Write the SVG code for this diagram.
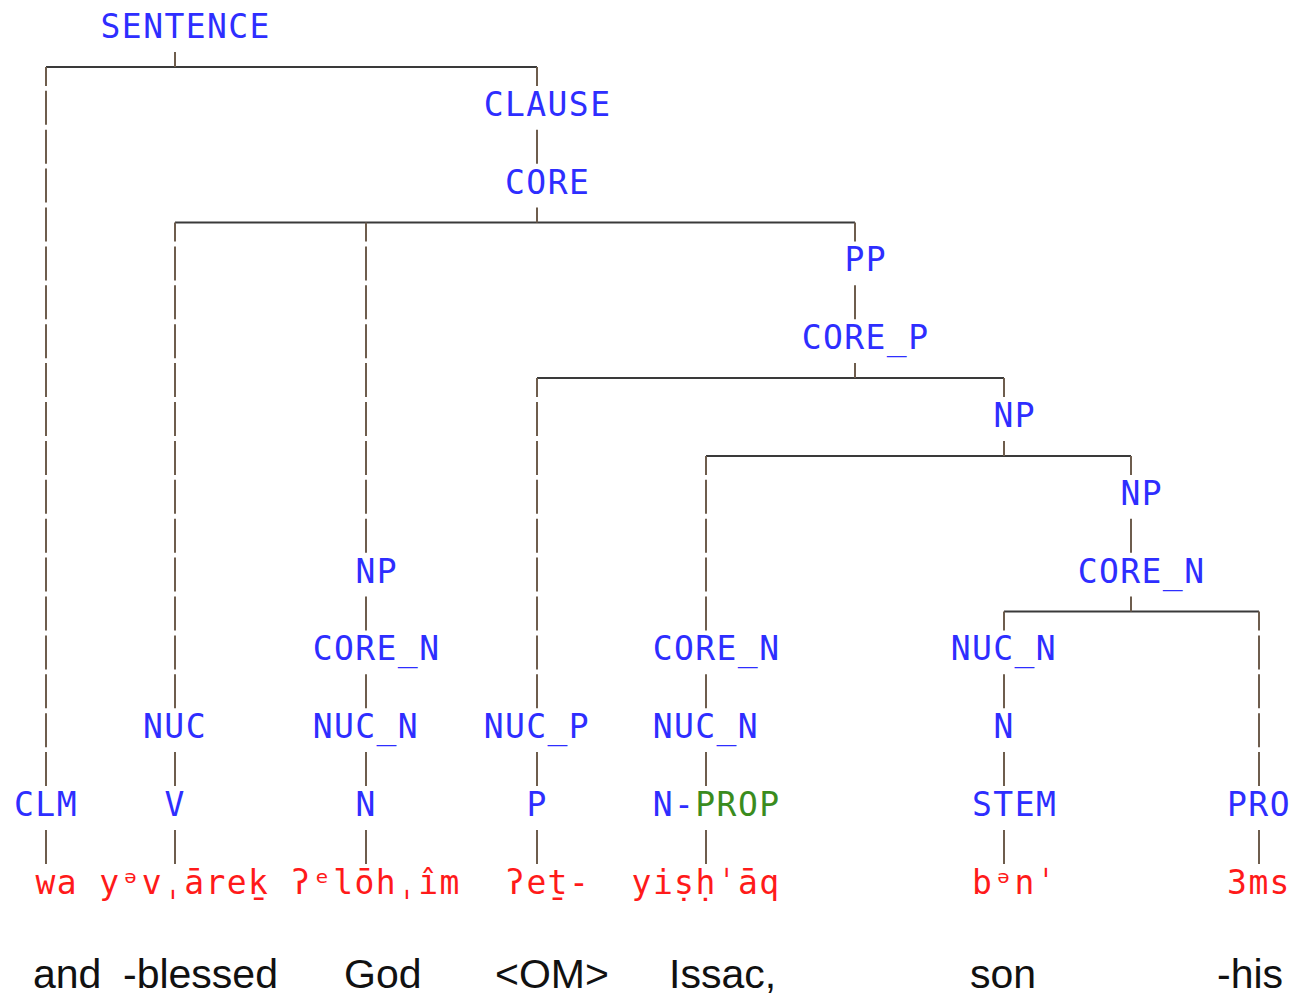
<svg xmlns="http://www.w3.org/2000/svg" width="1294" height="995" viewBox="0 0 1294 995">
<style>
.lbl{font-family:"DejaVu Sans Mono","Liberation Mono",monospace;font-size:33px;letter-spacing:1.4px;fill:#2e2eff}
.grn{fill:#3a8c1e}
.red{font-family:"DejaVu Sans Mono","Liberation Mono",monospace;font-size:33px;fill:#ff1a1a}
.eng{font-family:"Liberation Sans","Arial",sans-serif;font-size:41px;fill:#111}
.v{stroke:#6e5d4d;stroke-width:2;fill:none;stroke-dasharray:34 4.9}
.c{stroke-dashoffset:15}
.h{stroke:#3a3a3a;stroke-width:2;fill:none}
</style>
<rect width="1294" height="995" fill="#fff"/>
<g id="connectors">
<path class="h" d="M46 66.9H537M175 222.5H855M537 378.1H1004M706 455.9H1131M1004 611.5H1259"/>
<path class="v" d="M175 51.9V66.9"/>
<path class="v c" d="M46 66.9V786.1"/>
<path class="v" d="M46 829.9V863.9"/>
<path class="v c" d="M537 66.9V85.9"/>
<path class="v" d="M537 129.7V163.7"/>
<path class="v" d="M537 207.5V222.5"/>
<path class="v c" d="M175 222.5V708.3"/>
<path class="v" d="M175 752.1V786.1M175 829.9V863.9"/>
<path class="v c" d="M366 222.5V552.7"/>
<path class="v" d="M366 596.5V630.5M366 674.3V708.3M366 752.1V786.1M366 829.9V863.9"/>
<path class="v c" d="M855 222.5V241.5"/>
<path class="v" d="M855 285.3V319.3M855 363.1V378.1"/>
<path class="v c" d="M537 378.1V708.3"/>
<path class="v" d="M537 752.1V786.1M537 829.9V863.9"/>
<path class="v c" d="M1004 378.1V397.1"/>
<path class="v" d="M1004 440.9V455.9"/>
<path class="v c" d="M706 455.9V630.5"/>
<path class="v" d="M706 674.3V708.3M706 752.1V786.1M706 829.9V863.9"/>
<path class="v c" d="M1131 455.9V474.9"/>
<path class="v" d="M1131 518.7V552.7M1131 596.5V611.5"/>
<path class="v c" d="M1004 611.5V630.5"/>
<path class="v" d="M1004 674.3V708.3M1004 752.1V786.1M1004 829.9V863.9"/>
<path class="v c" d="M1259 611.5V786.1"/>
<path class="v" d="M1259 829.9V863.9"/>
</g>
<g id="n-sentence"><text class="lbl" x="100.6" y="38">SENTENCE</text></g>
<g id="n-clause"><text class="lbl" x="483.8" y="115.8">CLAUSE</text></g>
<g id="n-core"><text class="lbl" x="505.1" y="193.6">CORE</text></g>
<g id="n-pp"><text class="lbl" x="844.4" y="271.4">PP</text></g>
<g id="n-corep"><text class="lbl" x="801.8" y="349.2">CORE_P</text></g>
<g id="n-np1"><text class="lbl" x="993.4" y="427">NP</text></g>
<g id="n-np2"><text class="lbl" x="1120.4" y="504.8">NP</text></g>
<g id="n-np3"><text class="lbl" x="355.4" y="582.6">NP</text></g>
<g id="n-coren1"><text class="lbl" x="1077.8" y="582.6">CORE_N</text></g>
<g id="n-coren2"><text class="lbl" x="312.8" y="660.4">CORE_N</text></g>
<g id="n-coren3"><text class="lbl" x="652.8" y="660.4">CORE_N</text></g>
<g id="n-nucn1"><text class="lbl" x="950.8" y="660.4">NUC_N</text></g>
<g id="n-nuc"><text class="lbl" x="143.1" y="738.2">NUC</text></g>
<g id="n-nucn2"><text class="lbl" x="312.8" y="738.2">NUC_N</text></g>
<g id="n-nucp"><text class="lbl" x="483.8" y="738.2">NUC_P</text></g>
<g id="n-nucn3"><text class="lbl" x="652.8" y="738.2">NUC_N</text></g>
<g id="n-n1"><text class="lbl" x="993.4" y="738.2">N</text></g>
<g id="n-clm"><text class="lbl" x="14.1" y="816">CLM</text></g>
<g id="n-v"><text class="lbl" x="164.4" y="816">V</text></g>
<g id="n-n2"><text class="lbl" x="355.4" y="816">N</text></g>
<g id="n-p"><text class="lbl" x="526.4" y="816">P</text></g>
<g id="n-nprop"><text class="lbl" x="652.8" y="816">N-<tspan class="grn">PROP</tspan></text></g>
<g id="n-stem"><text class="lbl" x="972.1" y="816">STEM</text></g>
<g id="n-pro"><text class="lbl" x="1227.1" y="816">PRO</text></g>
<g id="w-1"><text class="red" x="35.4 56.7 77.9 99.2 120.5 141.8 163.0 184.3 205.6 226.8 248.1 269.4 290.6 311.9 333.2 354.5 375.7 397.0 418.3 439.5" y="893.8">wa yᵊvˌāreḵ ʔᵉlōhˌîm</text></g>
<g id="w-2"><text class="red" x="505.1 526.4 547.6 568.9" y="893.8">ʔeṯ-</text></g>
<g id="w-3"><text class="red" x="631.6 652.9 674.1 695.4 716.7 737.9 759.2" y="893.8">yiṣḥˈāq</text></g>
<g id="w-4"><text class="red" x="972.1 993.4 1014.6 1035.9" y="893.8">bᵊnˈ</text></g>
<g id="w-5"><text class="red" x="1227.1 1248.4 1269.6" y="893.8">3ms</text></g>
<g id="gloss">
<text class="eng" x="33" y="988">and</text>
<text class="eng" x="123" y="988">-blessed</text>
<text class="eng" x="344" y="988">God</text>
<text class="eng" x="495" y="988">&lt;OM&gt;</text>
<text class="eng" x="669" y="988">Issac,</text>
<text class="eng" x="970" y="988">son</text>
<text class="eng" x="1217" y="988">-his</text>
</g>
</svg>
